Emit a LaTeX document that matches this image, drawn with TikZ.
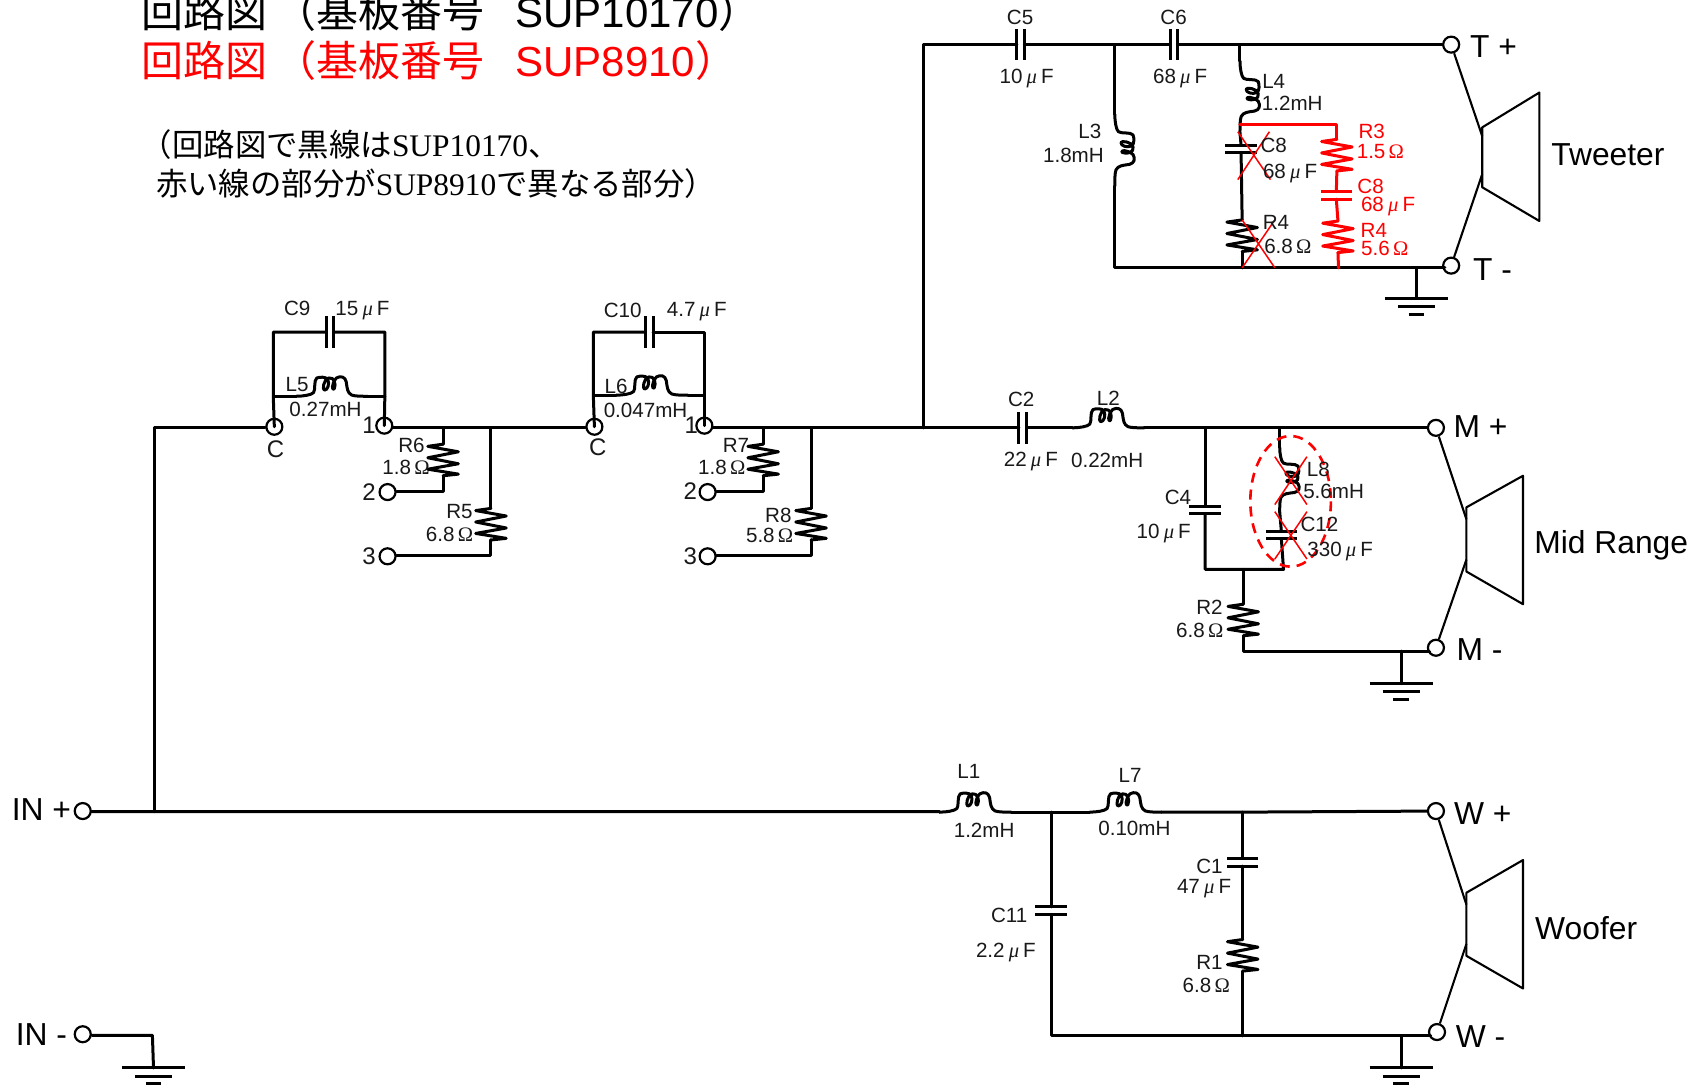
\documentclass[tikz,border=0pt]{standalone}
\usepackage{fontspec}
\setmainfont{Liberation Sans}
\newfontfamily\cjk{Noto Sans CJK JP}
\newfontfamily\serifl{Liberation Serif}
\newcommand{\uF}{\hspace{.2em}\smash{\serifl\itshape μ}\hspace{.2em}F}
\newcommand{\Om}{\hspace{.16em}{\serifl Ω}}
\newcommand{\lb}[4][]{\node[lbl,#1] (#2) at (#3) {#4};}
\tikzset{
  x=0.54435pt,y=-0.54435pt,
  wire/.style={line width=1.5pt,line cap=round,line join=round},
  thinw/.style={line width=1.05pt,line join=round},
  xmark/.style={red,line width=.75pt},
  lbl/.style={inner sep=0pt,font=\fontsize{10.3}{12}\selectfont,text=black!90},
  rlbl/.style={text=red},
  big/.style={font=\fontsize{15.9}{18}\selectfont,text=black},
  num/.style={font=\fontsize{12}{14}\selectfont},
  term/.style={circle,draw,line width=1.1pt,minimum size=8pt,inner sep=0pt},
  cap/.pic={
    \draw[wire,line cap=butt] (0,-14.5) -- (0,14.5) (7,-14.5) -- (7,14.5);
    \coordinate (-a) at (0,0); \coordinate (-b) at (7,0);
  },
  res/.pic={
    \draw[wire] (0,0) -- (-14,2) -- (14,7) -- (-14,12.5) -- (14,18) -- (-14,23) -- (14,27.5) -- (0,29);
    \coordinate (-a) at (0,0); \coordinate (-b) at (0,29);
  },
  ind/.pic={
    \draw[wire,yscale=1.12] (0,0) .. controls (6,0) and (14,-1) .. (16,-3)
      .. controls (18,-5) and (16,-13) .. (19,-15)
      .. controls (22,-16) and (27,-16) .. (29,-14)
      .. controls (31,-10) and (29,-5) .. (26,-5)
      .. controls (24,-5) and (25,-14) .. (30,-15)
      .. controls (35,-16) and (37,-10) .. (35,-6)
      .. controls (33,-4) and (32,-10) .. (37,-15)
      .. controls (41,-17) and (45,-16) .. (46,-12)
      .. controls (47,-6) and (47,-3) .. (51,-1)
      .. controls (54,0) and (60,0) .. (66,0);
    \coordinate (-a) at (0,0); \coordinate (-b) at (66,0);
  },
  gnd/.pic={
    \draw[wire,line cap=butt] (-29,0) -- (29,0) (-17,7.5) -- (17,7.5) (-7,14.5) -- (7,14.5);
    \coordinate (-a) at (0,0);
  }
}
\begin{document}
\begin{tikzpicture}
\useasboundingbox (0,0) rectangle (1568,999.5);
\clip (0,0) rectangle (1568,999.5);
\fill[white] (0,0) rectangle (1568,999.5);

% titles
\node[inner sep=0pt,anchor=west,font=\fontsize{21}{25}\selectfont] (title1) at (129.5,11)
  {{\cjk 回路図}\hspace{3.6pt}{\cjk （基板番号}\hspace{15.5pt}SUP10170{\cjk ）}};
\node[inner sep=0pt,anchor=west,font=\fontsize{21}{25}\selectfont,text=red] (title2) at (129.5,56)
  {{\cjk 回路図}\hspace{3.6pt}{\cjk （基板番号}\hspace{15.5pt}SUP8910{\cjk ）}};
\node[inner sep=0pt,anchor=west,font=\fontsize{15.7}{19}\selectfont] (note1) at (129,133)
  {{\cjk （回路図で黒線は}{\serifl SUP10170}{\cjk 、}};
\node[inner sep=0pt,anchor=west,font=\fontsize{15.7}{19}\selectfont] (note2) at (143,169)
  {{\cjk 赤い線の部分が}{\serifl SUP8910}{\cjk で異なる部分）}};

% terminals
\node[term] (Tp) at (1333,41) {};
\node[term] (Tm) at (1333,244) {};
\node[term] (Mp) at (1319,393) {};
\node[term] (Mm) at (1319,595) {};
\node[term] (Wp) at (1319,745) {};
\node[term] (Wm) at (1320,948) {};
\node[term] (INp) at (76,745) {};
\node[term] (INm) at (76,950) {};
\node[term] (aC) at (252,392) {};
\node[term] (a1) at (353,391) {};
\node[term] (a2) at (356,452) {};
\node[term] (a3) at (356,511) {};
\node[term] (bC) at (546,392) {};
\node[term] (b1) at (647,391) {};
\node[term] (b2) at (650,452) {};
\node[term] (b3) at (650,511) {};

% junctions
\coordinate (jIn) at (142,745.5);
\coordinate (jInTop) at (142,393);
\coordinate (ja0) at (407,393);
\coordinate (ja1) at (451,393);
\coordinate (jb0) at (701,393);
\coordinate (jb1) at (745,393);
\coordinate (jUp) at (848,393);
\coordinate (jUpT) at (848,41);
\coordinate (jL3) at (1024,41);
\coordinate (jL4) at (1139,41);
\coordinate (jL3b) at (1024,246);
\coordinate (jC8b) at (1141,246);
\coordinate (jR4r) at (1229.5,246);
\coordinate (jGT) at (1301,246);
\coordinate (jR3a) at (1139,114);
\coordinate (jR3b) at (1228,114);
\coordinate (jC4) at (1107,393);
\coordinate (jL8) at (1175.5,393);
\coordinate (jC4b) at (1107,523);
\coordinate (jR2) at (1142,523);
\coordinate (jC12b) at (1179,523);
\coordinate (jR2b) at (1142,598);
\coordinate (jGM) at (1287,598);
\coordinate (jC11) at (965.5,746);
\coordinate (jC1) at (1141.5,746);
\coordinate (jC11b) at (965.5,951.5);
\coordinate (jC1b) at (1141.5,951.5);
\coordinate (jGW) at (1287,951.5);
\coordinate (jGI) at (140,951);
\coordinate (aTL) at (251,305);
\coordinate (aTR) at (353.5,305);
\coordinate (aML) at (251,364);
\coordinate (aMR) at (353.5,364);
\coordinate (bTL) at (545,305);
\coordinate (bTR) at (647,305);
\coordinate (bML) at (545,363);
\coordinate (bMR) at (647,363);
\coordinate (a2c) at (407,451.5);
\coordinate (a3c) at (451,510.5);
\coordinate (b2c) at (701,451.5);
\coordinate (b3c) at (745,510.5);

% components
\pic (C5) at (934,41) {cap};
\pic (C6) at (1075,41) {cap};
\pic (C2) at (936,393) {cap};
\pic (C9) at (299.5,305) {cap};
\pic (C10) at (593,305) {cap};
\pic[rotate=-90] (C8) at (1140,133.5) {cap};
\pic[rotate=-90] (C4) at (1107,465) {cap};
\pic[rotate=-90] (C12) at (1177,488) {cap};
\pic[rotate=-90] (C11) at (965.5,833) {cap};
\pic[rotate=-90] (C1) at (1141.5,788.5) {cap};
\pic[red,rotate=-90] (C8r) at (1227.5,176) {cap};
\pic (R6) at (407,408) {res};
\pic (R5) at (451,467) {res};
\pic (R7) at (701,408) {res};
\pic (R8) at (745,467) {res};
\pic (R4b) at (1141,202) {res};
\pic (R2) at (1142,555) {res};
\pic (R1) at (1141.5,863) {res};
\pic[red] (R3) at (1228,128) {res};
\pic[red] (R4r) at (1229,203) {res};
\pic (L1) at (863,746) {ind};
\pic (L7) at (1001,746) {ind};
\pic (L2) at (985,393) {ind};
\pic (L5) at (272,364) {ind};
\pic (L6) at (566,363) {ind};
\pic[rotate=-90] (L3) at (1024,105) {ind};
\pic[rotate=-90] (L4) at (1139,56) {ind};
\pic[rotate=-90,xscale=.9] (L8) at (1175.5,411) {ind};
\pic (GT) at (1301,274) {gnd};
\pic (GM) at (1287,628) {gnd};
\pic (GW) at (1287,981) {gnd};
\pic (GI) at (141,981) {gnd};

% wiring
\draw[wire] (INp) -- (jIn -| INp.east) -- (jIn) -- (jIn -| L1-a) -- (L1-a);
\draw[wire] (jIn) -- (jInTop) -- (jInTop -| aC.west);
\draw[wire] (ja0 -| a1.east) -- (ja0) -- (ja1) -- (ja1 -| bC.west);
\draw[wire] (jb0 -| b1.east) -- (jb0) -- (jb1) -- (jUp) -- (C2-a);
\draw[wire] (jUp) -- (jUpT) -- (C5-a);
\draw[wire] (C5-b) -- (jL3) -- (C6-a);
\draw[wire] (C6-b) -- (jL4) -- (Tp);
\draw[wire] (aC.center) -- (aML) -- (aTL) -- (C9-a);
\draw[wire] (C9-b) -- (aTR) -- (aMR) -- (a1.center);
\draw[wire] (aML) -- (L5-a);
\draw[wire] (L5-b) -- (aMR);
\draw[wire] (bC.center) -- (bML) -- (bTL) -- (C10-a);
\draw[wire] (C10-b) -- (bTR) -- (bMR) -- (b1.center);
\draw[wire] (bML) -- (L6-a);
\draw[wire] (L6-b) -- (bMR);
\draw[wire] (ja0) -- (R6-a);
\draw[wire] (R6-b) -- (a2c) -- (a2c -| a2.east);
\draw[wire] (ja1) -- (R5-a);
\draw[wire] (R5-b) -- (a3c) -- (a3c -| a3.east);
\draw[wire] (jb0) -- (R7-a);
\draw[wire] (R7-b) -- (b2c) -- (b2c -| b2.east);
\draw[wire] (jb1) -- (R8-a);
\draw[wire] (R8-b) -- (b3c) -- (b3c -| b3.east);
% tweeter branch
\draw[wire] (jL3) -- (L3-a);
\draw[wire] (L3-b) -- (jL3b) -- (jC8b) -- (jR4r) -- (jGT) -- (jGT -| Tm.south west);
\draw[wire] (jL4) -- (L4-a);
\draw[wire] (L4-b) -- (C8-a);
\draw[wire] (C8-b) -- (R4b-a);
\draw[wire] (R4b-b) -- (jC8b);
\draw[wire] (jGT) -- (GT-a);
\draw[wire,red] (jR3a) -- (jR3b) -- (R3-a);
\draw[wire,red] (R3-b) -- (C8r-a);
\draw[wire,red] (C8r-b) -- (R4r-a);
\draw[wire,red] (R4r-b) -- (jR4r);
% mid branch
\draw[wire] (C2-b) -- (L2-a);
\draw[wire] (L2-b) -- (jC4) -- (jL8) -- (Mp);
\draw[wire] (jC4) -- (C4-a);
\draw[wire] (C4-b) -- (jC4b) -- (jR2) -- (jC12b) -- (C12-b);
\draw[wire] (jL8) -- (L8-a);
\draw[wire] (L8-b) -- (C12-a);
\draw[wire] (jR2) -- (R2-a);
\draw[wire] (R2-b) -- (jR2b) -- (jGM) -- (jGM -| Mm.south west);
\draw[wire] (jGM) -- (GM-a);
% woofer branch
\draw[wire] (L1-b) -- (jC11) -- (L7-a);
\draw[wire] (L7-b) -- (jC1) -- (Wp);
\draw[wire] (jC11) -- (C11-a);
\draw[wire] (C11-b) -- (jC11b) -- (jC1b) -- (jGW) -- (jGW -| Wm.south west);
\draw[wire] (jC1) -- (C1-a);
\draw[wire] (C1-b) -- (R1-a);
\draw[wire] (R1-b) -- (jC1b);
\draw[wire] (jGW) -- (GW-a);
\draw[wire] (jGI -| INm.east) -- (jGI) -- (GI-a);

% speakers
\draw[thinw] (1361.5,117) -- (1414,85) -- (1414,203) -- (1361.5,172) -- cycle;
\draw[thinw] (1347,466) -- (1399,437) -- (1399,555) -- (1347,525) -- cycle;
\draw[thinw] (1347,820) -- (1399,790) -- (1399,908) -- (1347,878) -- cycle;
\coordinate (sT1) at (1361.5,125); \coordinate (sT2) at (1361.5,160);
\coordinate (sM1) at (1347,477); \coordinate (sM2) at (1347,514);
\coordinate (sW1) at (1347,831); \coordinate (sW2) at (1347,867);
\draw[thinw] (Tp) -- (sT1);
\draw[thinw] (Tm) -- (sT2);
\draw[thinw] (Mp) -- (sM1);
\draw[thinw] (Mm) -- (sM2);
\draw[thinw] (Wp) -- (sW1);
\draw[thinw] (Wm) -- (sW2);

% red marks
\draw[xmark] (1137,121) -- (1167,165) (1166,121) -- (1137,165);
\draw[xmark] (1141,202) -- (1171,246) (1171,202) -- (1141,246);
\draw[xmark] (1171,419.5) -- (1200.5,463.5) (1200.5,419.5) -- (1171,463.5);
\draw[xmark] (1171,470) -- (1200.5,513.5) (1200.5,470) -- (1171,513.5);
\draw[red,line width=1.3pt,dash pattern=on 5pt off 3.5pt] (1185.5,460.5) ellipse [x radius=37,y radius=60];

% labels
\lb{tC5}{937,16}{C5}
\lb{tC5v}{943,70}{10\uF}
\lb{tC6}{1078,16}{C6}
\lb{tC6v}{1084,70}{68\uF}
\lb{tL4}{1170,75}{L4}
\lb{tL4v}{1187,95}{1.2mH}
\lb{tL3}{1001,121}{L3}
\lb{tL3v}{986,143}{1.8mH}
\lb{tC8}{1170,134}{C8}
\lb{tC8v}{1185,157}{68\uF}
\lb{tR4}{1172,204}{R4}
\lb{tR4v}{1183,226}{6.8\Om}
\lb[rlbl]{tR3r}{1260,121}{R3}
\lb[rlbl]{tR3rv}{1268,139}{1.5\Om}
\lb[rlbl]{tC8r}{1259,171}{C8}
\lb[rlbl]{tC8rv}{1275,188}{68\uF}
\lb[rlbl]{tR4r}{1262,212}{R4}
\lb[rlbl]{tR4rv}{1272,228}{5.6\Om}
\lb[big]{tTp}{1372,42.5}{T +}
\lb[big]{tTm}{1371,248}{T -}
\lb[big]{tTw}{1477,142}{Tweeter}
\lb{tC2}{938,367}{C2}
\lb{tC2v}{947,422}{22\uF}
\lb{tL2}{1018,366}{L2}
\lb{tL2v}{1017,423}{0.22mH}
\lb{tC4}{1082,457}{C4}
\lb{tC4v}{1069,488}{10\uF}
\lb{tL8}{1211,431}{L8}
\lb{tL8v}{1225,451}{5.6mH}
\lb{tC12}{1212,482}{C12}
\lb{tC12v}{1231,505}{330\uF}
\lb{tR2}{1111,558}{R2}
\lb{tR2v}{1102,579}{6.8\Om}
\lb[big]{tMp}{1360,392}{M +}
\lb[big]{tMm}{1359,597}{M -}
\lb[big]{tMr}{1480,501}{Mid Range}
\lb{tL1}{890,709}{L1}
\lb{tL1v}{904,763}{1.2mH}
\lb{tL7}{1038,712}{L7}
\lb{tL7v}{1042,761}{0.10mH}
\lb{tC11}{927,841}{C11}
\lb{tC11v}{924,873}{2.2\uF}
\lb{tC1}{1111,796}{C1}
\lb{tC1v}{1106,814}{47\uF}
\lb{tR1}{1111,884}{R1}
\lb{tR1v}{1108,905}{6.8\Om}
\lb[big]{tWp}{1362,747}{W +}
\lb[big]{tWm}{1360,952}{W -}
\lb[big]{tWo}{1457,853}{Woofer}
\lb[big]{tINp}{38,744}{IN +}
\lb[big]{tINm}{38,950}{IN -}
\lb{tC9}{273,283}{C9}
\lb{tC9v}{333,283}{15\uF}
\lb{tL5}{273,353}{L5}
\lb{tL5v}{299,376}{0.27mH}
\lb[num]{tCa}{253,413}{C}
\lb[num]{t1a}{339,391}{1}
\lb{tR6}{378,409}{R6}
\lb{tR6v}{373,429}{1.8\Om}
\lb[num]{t2a}{339,452}{2}
\lb{tR5}{422,470}{R5}
\lb{tR5v}{413,491}{6.8\Om}
\lb[num]{t3a}{339,511}{3}
\lb{tC10}{572,285}{C10}
\lb{tC10v}{640,284}{4.7\uF}
\lb{tL6}{566,355}{L6}
\lb{tL6v}{593,377}{0.047mH}
\lb[num]{tCb}{549,411}{C}
\lb[num]{t1b}{635,391}{1}
\lb{tR7}{676,409}{R7}
\lb{tR7v}{663,429}{1.8\Om}
\lb[num]{t2b}{634,451}{2}
\lb{tR8}{715,473}{R8}
\lb{tR8v}{707,492}{5.8\Om}
\lb[num]{t3b}{634,511}{3}
\end{tikzpicture}
\end{document}
